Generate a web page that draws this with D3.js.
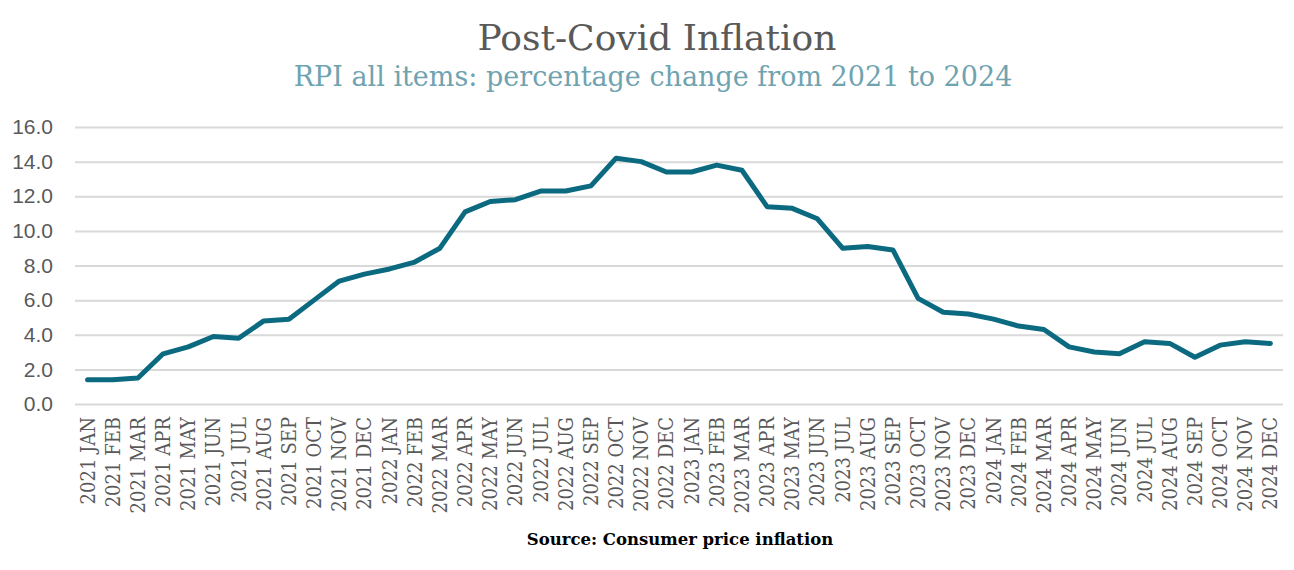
<!DOCTYPE html>
<html><head><meta charset="utf-8">
<script src="https://cdn.jsdelivr.net/npm/d3@7"></script>
<style>body{margin:0;background:#fff}</style>
</head><body><svg id="c" width="1294" height="570"></svg>
<script>
const months = ["JAN","FEB","MAR","APR","MAY","JUN","JUL","AUG","SEP","OCT","NOV","DEC"];
const years = ["2021","2022","2023","2024"];
const categories = years.flatMap(y => months.map(m => y + " " + m));
const values = [1.4,1.4,1.5,2.9,3.3,3.9,3.8,4.8,4.9,6.0,7.1,7.5,
                7.8,8.2,9.0,11.1,11.7,11.8,12.3,12.3,12.6,14.2,14.0,13.4,
                13.4,13.8,13.5,11.4,11.3,10.7,9.0,9.1,8.9,6.1,5.3,5.2,
                4.9,4.5,4.3,3.3,3.0,2.9,3.6,3.5,2.7,3.4,3.6,3.5];
const yTicks = [0,2,4,6,8,10,12,14,16];
const title = "Post-Covid Inflation";
const subtitle = "RPI all items: percentage change from 2021 to 2024";
const source = "Source: Consumer price inflation";

const svg = d3.select("#c");
const L = 75, R = 1283, T = 127, B = 404;
const x = d3.scaleBand().domain(categories).range([L, R]);
const y = d3.scaleLinear().domain([0, 16]).range([B, T]);

svg.append("text").attr("x", 657).attr("y", 50).attr("text-anchor","middle")
  .attr("font-family","DejaVu Serif").attr("font-size",36).attr("fill","#595959").text(title);
svg.append("text").attr("x", 653).attr("y", 86).attr("text-anchor","middle")
  .attr("font-family","DejaVu Serif").attr("font-size",27).attr("fill","#6fa3b0").text(subtitle);

const ya = svg.append("g").attr("transform", `translate(${L},0)`)
  .call(d3.axisLeft(y).tickValues(yTicks).tickSize(-(R-L)).tickPadding(22).tickFormat(d3.format(".1f")));
ya.select(".domain").remove();
ya.selectAll(".tick line").attr("stroke","#d9d9d9").attr("stroke-width",2);
ya.selectAll(".tick text").attr("font-family","Liberation Sans").attr("font-size",21).attr("fill","#595959");

const xa = svg.append("g").attr("transform", `translate(0,${B})`)
  .call(d3.axisBottom(x).tickSize(0).tickPadding(0));
xa.select(".domain").remove();
xa.selectAll(".tick text").attr("font-family","DejaVu Serif Condensed, DejaVu Serif").attr("font-stretch","condensed")
  .attr("font-size",20).attr("fill","#595959")
  .attr("text-anchor","end").attr("dy","0.35em").attr("transform","translate(0,13) rotate(-90)").attr("x",0).attr("y",0);

const line = d3.line().x((d,i) => x(categories[i]) + x.bandwidth()/2).y(d => y(d));
svg.append("path").datum(values).attr("d", line).attr("fill","none")
  .attr("stroke","#0b6a80").attr("stroke-width",5).attr("stroke-linejoin","round").attr("stroke-linecap","round");

svg.append("text").attr("x", 680).attr("y", 545).attr("text-anchor","middle")
  .attr("font-family","DejaVu Serif").attr("font-weight","bold").attr("font-size",16.5).attr("fill","#000").text(source);
</script></body></html>
